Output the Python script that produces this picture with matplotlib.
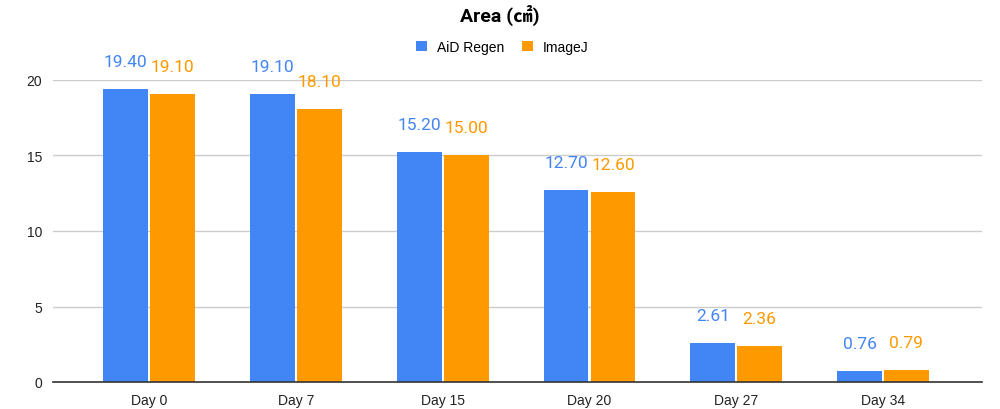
import numpy as np
import matplotlib
matplotlib.use('Agg')
import matplotlib.pyplot as plt

plt.rcParams['font.family'] = ['Roboto', 'Noto Sans CJK SC', 'DejaVu Sans']

days = ['Day 0', 'Day 7', 'Day 15', 'Day 20', 'Day 27', 'Day 34']
aid_regen = [19.40, 19.10, 15.20, 12.70, 2.61, 0.76]
imagej = [19.10, 18.10, 15.00, 12.60, 2.36, 0.79]

blue = '#4285F4'
orange = '#FF9900'

fig = plt.figure(figsize=(10, 4.1), dpi=100)
ax = fig.add_axes([0.053, 27 / 410, 0.929, 302 / 410])

x = np.arange(len(days))
w = 0.305
b1 = ax.bar(x - 0.16, aid_regen, w, color=blue, label='AiD Regen', zorder=3)
b2 = ax.bar(x + 0.16, imagej, w, color=orange, label='ImageJ', zorder=3)

for bars, vals, col in [(b1, aid_regen, blue), (b2, imagej, orange)]:
    for r, v in zip(bars, vals):
        ax.annotate(f'{v:.2f}', (r.get_x() + r.get_width() / 2, v),
                    xytext=(0, 20), textcoords='offset pixels',
                    ha='center', va='bottom', fontsize=12.5, color=col,
                    annotation_clip=False)

ax.set_xlim(-0.655, 5.675)
ax.set_ylim(0, 20)
ax.set_yticks([0, 5, 10, 15, 20])
ax.set_xticks(x)
ax.set_xticklabels(days)
ax.tick_params(axis='both', length=0, labelsize=10, colors='#222222', pad=8)
for lab in ax.get_xticklabels() + ax.get_yticklabels():
    lab.set_family(['Liberation Sans', 'DejaVu Sans'])
ax.grid(axis='y', color='#cccccc', linewidth=1, zorder=0)
for s in ['top', 'right', 'left']:
    ax.spines[s].set_visible(False)
ax.spines['bottom'].set_color('#333333')
ax.spines['bottom'].set_linewidth(1.2)
ax.spines['bottom'].set_zorder(4)

fig.text(0.5, 0.963, 'Area (㎠)', ha='center', va='center',
         fontsize=14, fontweight='bold', color='#000000')
leg = fig.legend(loc='center', bbox_to_anchor=(0.502, 0.883), ncol=2, frameon=False,
                 handlelength=0.8, handleheight=0.8, columnspacing=1.3,
                 handletextpad=0.7,
                 prop={'family': ['Liberation Sans', 'DejaVu Sans'], 'size': 10})

plt.savefig('out.png', dpi=100)
plt.close('all')
